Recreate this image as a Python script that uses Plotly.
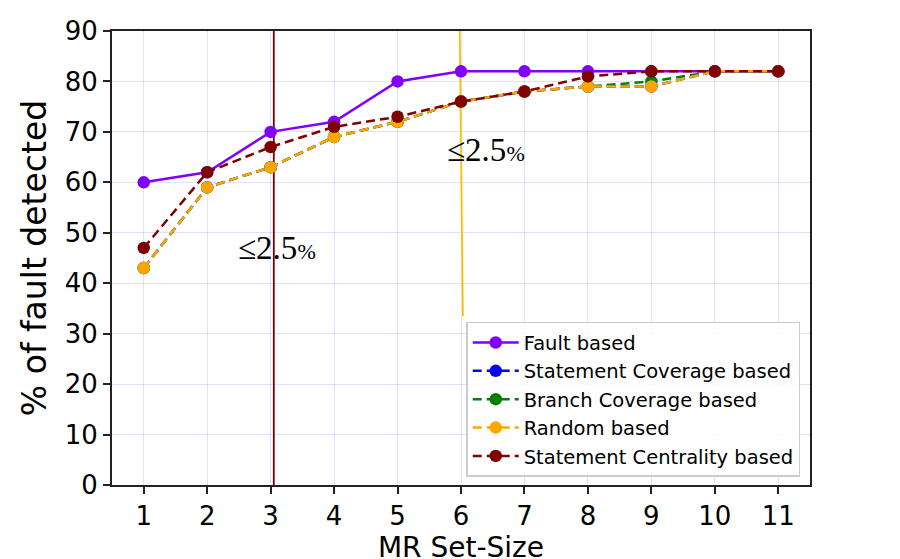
import plotly.graph_objects as go

x_sizes = [1, 2, 3, 4, 5, 6, 7, 8, 9, 10, 11]
fault = [60, 62, 70, 72, 80, 82, 82, 82, 82, 82, 82]
stmt_cov = [43, 59, 63, 69, 72, 76, 78, 79, 79, 82, 82]
branch_cov = [43, 59, 63, 69, 72, 76, 78, 79, 80, 82, 82]
random_b = [43, 59, 63, 69, 72, 76, 78, 79, 79, 82, 82]
centrality = [47, 62, 67, 71, 73, 76, 78, 81, 82, 82, 82]

vline1_x = [3.05, 3.05]
vline1_y = [0, 90]
vline2_x = [5.98, 6.03]
vline2_y = [90, 33.5]

ann_x = [3.1, 6.4]
ann_y = [47, 66.5]
ann_text = ["≤2.5", "≤2.5"]

series = [
    ("Fault based", fault, "#7f00ff", "solid"),
    ("Statement Coverage based", stmt_cov, "#0000ff", "dash"),
    ("Branch Coverage based", branch_cov, "#008000", "dash"),
    ("Random based", random_b, "#ffa500", "dash"),
    ("Statement Centrality based", centrality, "#800000", "dash"),
]

fig = go.Figure()
fig.add_trace(go.Scatter(x=vline1_x, y=vline1_y, mode="lines",
                         line=dict(color="#800000", width=1.8), showlegend=False, hoverinfo="skip"))
fig.add_trace(go.Scatter(x=vline2_x, y=vline2_y, mode="lines",
                         line=dict(color="#ffbf00", width=1.8), showlegend=False, hoverinfo="skip"))
for name, vals, col, dash in series:
    fig.add_trace(go.Scatter(
        x=x_sizes, y=vals, name=name, mode="lines+markers",
        line=dict(color=col, width=2.5, dash="solid" if dash == "solid" else "9px,5px"),
        marker=dict(color=col, size=12.5, line=dict(width=0)),
    ))

for ax, ay, t in zip(ann_x, ann_y, ann_text):
    fig.add_annotation(x=ax, y=ay, xref="x", yref="y", showarrow=False,
                       text=t + "<span style='font-size:22px'>%</span>",
                       font=dict(family="Liberation Serif", size=33, color="black"))

grid = "rgba(0,0,255,0.12)"
axcol = "#222222"
fig.update_xaxes(range=[0.5, 11.5], tickvals=x_sizes, ticktext=[str(v) for v in x_sizes],
                 showgrid=True, gridcolor=grid, gridwidth=1, zeroline=False, automargin=False,
                 showline=True, linecolor=axcol, linewidth=2, mirror=True,
                 ticks="outside", ticklen=7, tickwidth=1.5, tickcolor=axcol,
                 tickfont=dict(family="DejaVu Sans", size=26, color="black"),
                 title=dict(text="MR Set-Size", font=dict(family="DejaVu Sans", size=28, color="black"), standoff=3))
fig.update_yaxes(range=[0, 90], tickvals=list(range(0, 91, 10)),
                 showgrid=True, gridcolor=grid, gridwidth=1, zeroline=False, automargin=False,
                 showline=True, linecolor=axcol, linewidth=2, mirror=True,
                 ticks="outside", ticklen=7, tickwidth=1.5, tickcolor=axcol,
                 tickfont=dict(family="DejaVu Sans", size=26, color="black"),
                 title=dict(text="% of fault detected", font=dict(family="DejaVu Sans", size=33, color="black"), standoff=8))

fig.update_layout(
    width=900, height=559,
    margin=dict(l=104, r=98, t=23, b=82),
    plot_bgcolor="white", paper_bgcolor="white",
    legend=dict(x=0.986, y=0.018, xanchor="right", yanchor="bottom",
                bgcolor="rgba(255,255,255,0.85)", bordercolor="#cccccc", borderwidth=1.5,
                font=dict(family="DejaVu Sans", size=19.5, color="black"),
                itemwidth=46, tracegroupgap=0),
)

fig.write_html("out.html")
